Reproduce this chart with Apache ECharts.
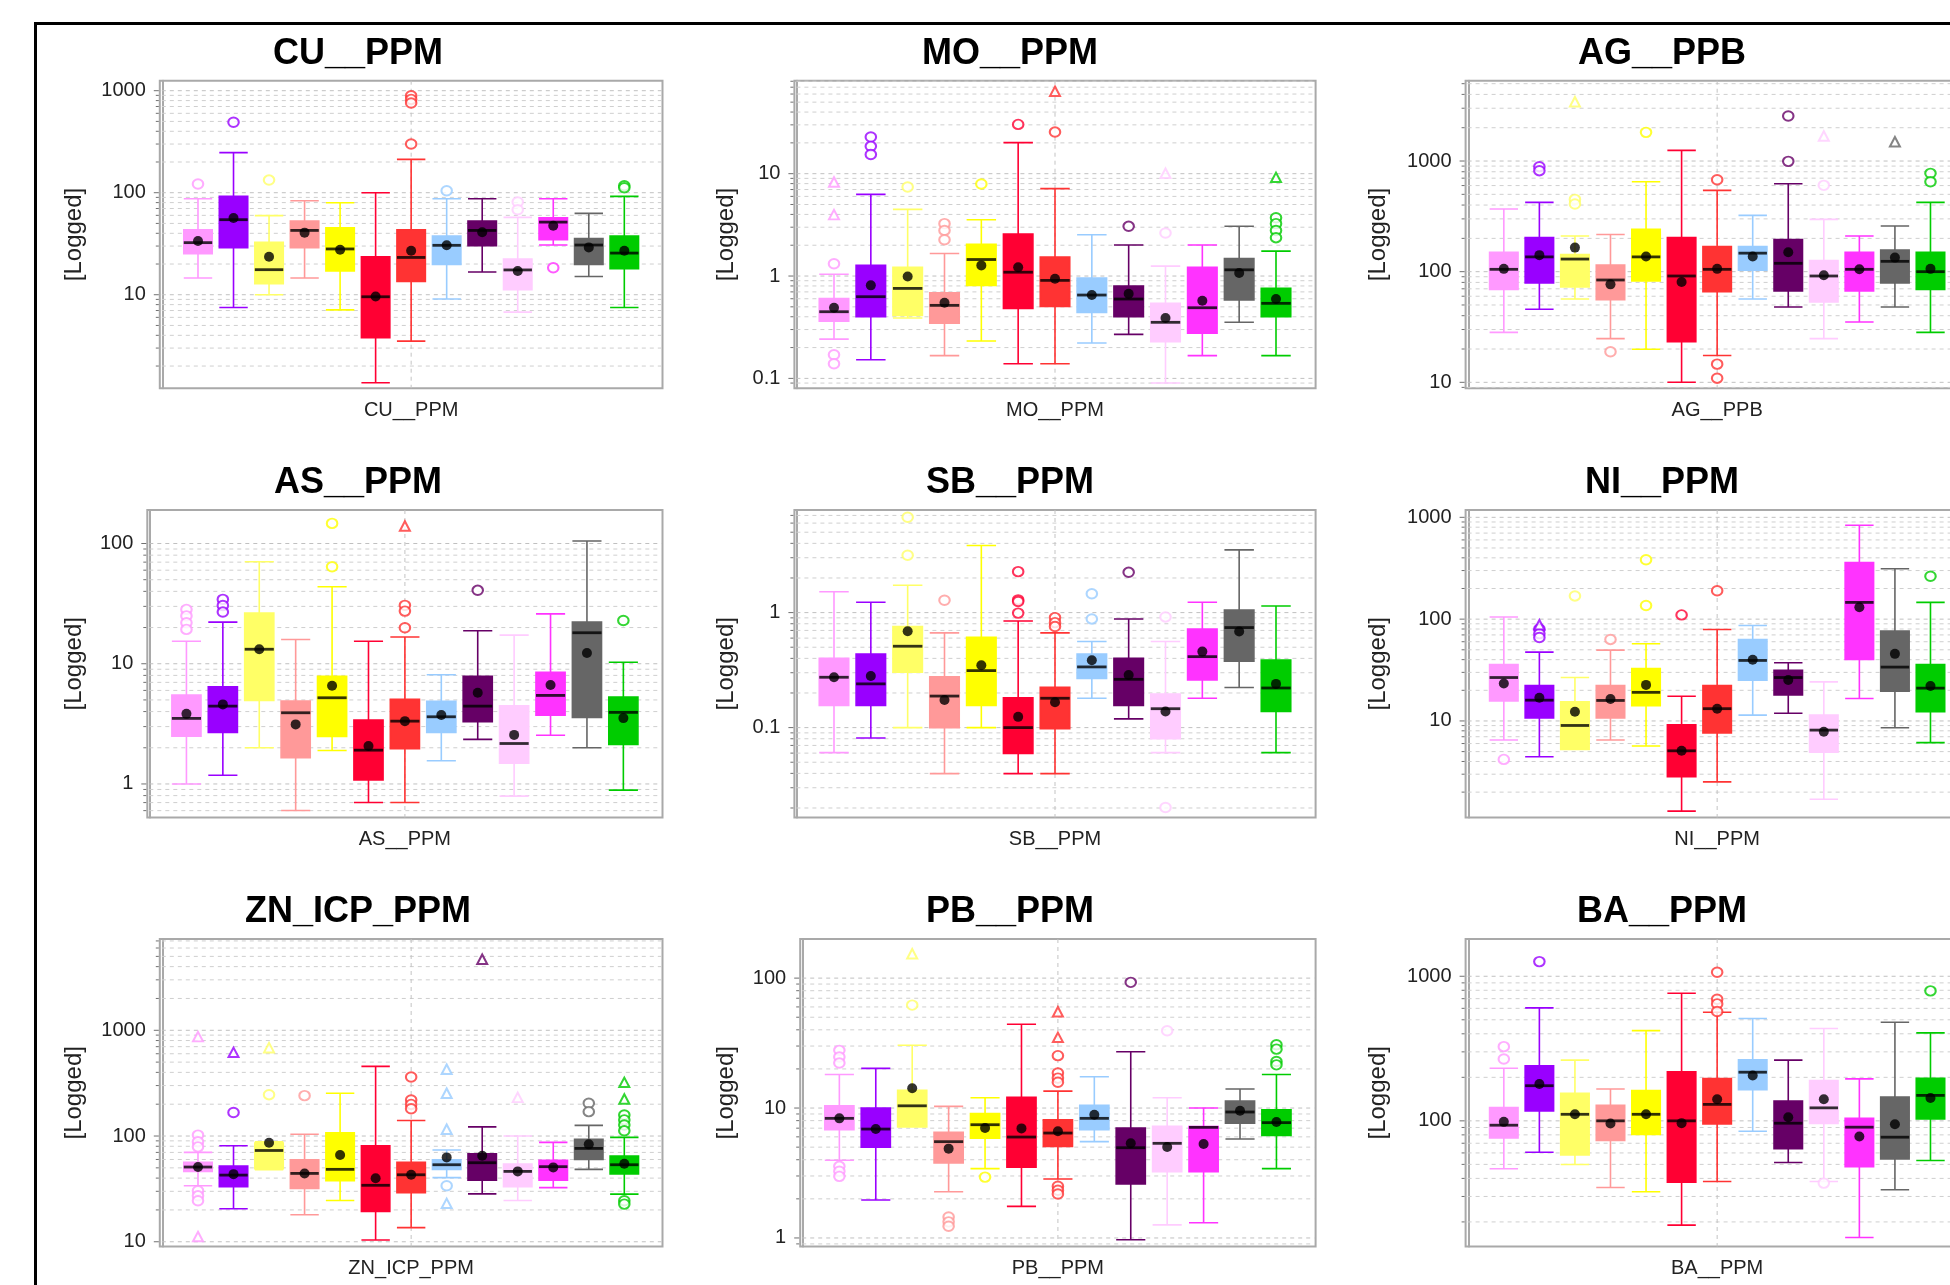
<!DOCTYPE html>
<html>
<head>
<meta charset="utf-8">
<script src="https://cdn.jsdelivr.net/npm/echarts@6/dist/echarts.min.js"></script>
<style>
html,body{margin:0;padding:0;background:#ffffff;}
#chart{width:1950px;height:1285px;}
</style>
</head>
<body>
<div id="chart"></div>
<script>
// ---------------- DATA ----------------
const groups = ['Group 1','Group 2','Group 3','Group 4','Group 5','Group 6','Group 7','Group 8','Group 9','Group 10','Group 11','Group 12','Group 13'];
const groupColors = ['#FF99FF','#9900FF','#FFFF66','#FF9999','#FFFF00','#FF0033','#FF3333','#99CCFF','#660066','#FFCCFF','#FF33FF','#666666','#00CC00'];
const variables = ['CU__PPM','MO__PPM','AG__PPB','AS__PPM','SB__PPM','NI__PPM','ZN_ICP_PPM','PB__PPM','BA__PPM'];

// each box: [lower whisker, Q1, median, Q3, upper whisker]
const CU_box = [[14.6,25.2,32.4,43.4,87.3],[7.5,28.9,54.4,92.1,247],[10,12.8,17.6,32.6,59.6],[14.6,28.9,42.7,52.7,83.5],[7.1,17.1,28.1,45.4,79.8],[1.37,3.79,9.55,23.6,100],[3.51,13.5,23.2,43.4,212],[9.08,19.8,30.5,37.6,87.3],[16.7,30.2,42.7,52.7,87.3],[6.76,11.2,17.5,22.4,57.3],[30.7,34.6,51.5,56.9,87.3],[15.1,19.8,30.7,35.6,62.7],[7.5,18.0,25.6,37.6,92.1]];
const CU_mean = [33.6,56.5,23.6,40.6,27.6,9.6,27.0,30.5,41,17.1,47.4,29.1,27.0];
const CU_outliers = [[0,121.6],[1,490],[2,133],[6,893],[6,822],[6,757],[6,300],[7,104.6],[9,81],[9,68],[10,18.4],[12,117],[12,112]];
const CU_extremes = [];
const CU_range = [1.21, 1253];

const MO_box = [[0.242,0.363,0.448,0.601,1.04],[0.152,0.401,0.628,1.27,6.28],[0.389,0.413,0.757,1.22,4.48],[0.167,0.347,0.517,0.687,1.66],[0.232,0.811,1.45,2.04,3.55],[0.139,0.483,1.09,2.57,20.1],[0.139,0.505,0.907,1.53,7.14],[0.222,0.441,0.652,0.956,2.53],[0.269,0.401,0.596,0.799,2.01],[0.090,0.228,0.353,0.541,1.25],[0.167,0.277,0.490,1.22,2.01],[0.353,0.583,1.15,1.48,3.06],[0.167,0.401,0.541,0.758,1.75]];
const MO_mean = [0.490,0.811,0.99,0.549,1.27,1.22,0.94,0.652,0.672,0.389,0.574,1.07,0.596];
const MO_outliers = [[0,1.32],[0,0.170],[0,0.139],[1,22.8],[1,18.5],[1,15.4],[2,7.41],[3,3.25],[3,2.79],[3,2.26],[4,7.93],[5,30.3],[6,25.5],[8,3.06],[9,2.63],[12,3.71],[12,3.25],[12,2.79],[12,2.37]];
const MO_extremes = [[0,8.29],[0,3.98],[6,63.8],[9,10.1],[12,9.21]];
const MO_range = [0.08, 81];

const AG_box = [[28.3,69.2,105,150,368],[45.7,79,136,203,423],[56.6,72.7,130,143,210],[24.8,55.8,84.1,115,217],[19.9,82.3,136,241,650],[10,23.3,91.4,203,1248],[17.5,65.9,105,169,543],[56.6,103,147,169,323],[48.0,66.9,119,195,624],[24.8,53.2,91.4,126,297],[35.1,66.9,105,150,210],[48,79,124,157,259],[28.3,69.2,100,150,423]];
const AG_mean = [106,141,165,76.8,137,80.6,106,137,149.6,92.7,105,134,106];
const AG_outliers = [[1,889],[1,818],[2,450],[2,409],[3,18.9],[4,1816],[6,678],[6,14.6],[6,10.9],[8,2550],[8,993],[9,603],[12,774],[12,650]];
const AG_extremes = [[2,3437],[9,1682],[11,1495]];
const AG_range = [8.83, 5320];

const AS_box = [[1.0,2.50,3.51,5.49,15.4],[1.18,2.68,4.44,6.43,22.2],[2.0,4.95,13.2,26.4,70.6],[0.601,1.65,3.91,4.89,15.9],[1.90,2.48,5.21,7.85,43.7],[0.702,1.08,1.91,3.40,15.4],[0.702,1.96,3.33,5.05,16.7],[1.56,2.68,3.62,4.86,8.10],[2.35,3.29,4.44,7.85,18.8],[0.792,1.49,2.17,4.47,17.3],[2.54,3.74,5.45,8.47,26.0],[2.0,3.58,18.1,22.2,104.8],[0.888,2.13,3.94,5.28,10.3]];
const AS_mean = [3.83,4.59,13.2,3.13,6.56,2.07,3.33,3.74,5.74,2.56,6.65,12.3,3.53];
const AS_outliers = [[0,28.3],[0,25],[0,21.9],[0,19.3],[1,34.3],[1,30.5],[1,26.9],[4,147],[4,64.1],[6,30.6],[6,27.4],[6,19.9],[8,40.8],[12,22.9]];
const AS_extremes = [[6,140]];
const AS_range = [0.525, 190];

const SB_box = [[0.0606,0.156,0.274,0.401,1.52],[0.0813,0.156,0.240,0.437,1.23],[0.1,0.303,0.510,0.755,1.73],[0.0398,0.1,0.188,0.276,0.666],[0.1,0.156,0.313,0.610,3.83],[0.0398,0.0597,0.1,0.182,0.846],[0.0398,0.098,0.180,0.224,0.666],[0.180,0.268,0.337,0.437,0.56],[0.119,0.156,0.263,0.401,0.881],[0.0606,0.0802,0.146,0.196,0.56],[0.180,0.260,0.414,0.721,1.23],[0.223,0.377,0.741,1.05,3.51],[0.0606,0.138,0.221,0.387,1.14]];
const SB_mean = [0.274,0.281,0.688,0.174,0.348,0.124,0.166,0.385,0.287,0.138,0.458,0.684,0.240];
const SB_outliers = [[2,6.75],[2,3.15],[3,1.28],[5,2.27],[5,1.29],[5,1.25],[5,0.99],[6,0.905],[6,0.818],[6,0.756],[7,1.46],[7,0.881],[8,2.24],[9,0.917],[9,0.0202]];
const SB_extremes = [];
const SB_range = [0.0165, 7.8];

const NI_box = [[6.49,15.7,26.7,35.9,105],[4.45,10.7,16.0,22.3,47.4],[5.25,5.25,9.03,15.4,26.7],[6.49,10.7,15.9,22.3,49.6],[5.68,14.1,19.1,32.8,57.3],[1.30,2.83,5.09,9.17,17.5],[2.52,7.63,13.2,22.3,79.1],[11.4,25.2,39.3,63.2,86.7],[11.9,18.0,26.7,31.4,37.3],[1.70,4.94,8.13,11.4,24.2],[16.6,40.2,146,360,837],[8.57,19.6,33.8,76.2,312],[6.12,12.3,21.0,35.9,146]];
const NI_mean = [23.3,16.9,12.3,16.4,22.6,5.09,13.2,39.9,25.2,7.82,131,45.6,22.0];
const NI_outliers = [[0,4.19],[1,80],[1,72],[1,66],[2,169],[3,63.2],[4,383],[4,136],[5,110],[6,190],[12,264]];
const NI_extremes = [[1,88]];
const NI_range = [1.124, 1180];

const ZN_box = [[33.9,46.3,50.9,56.4,70],[20.5,33.1,42.7,52.0,81],[48,49,73,86,88],[18.0,32.0,44.3,59.7,104],[24.6,37.8,48.4,107,254],[10.4,19.4,34.2,81,456],[13.6,29.1,43.0,56.4,140],[40.4,48.4,53.5,59.7,73.7],[28.4,38.3,55.9,68.0,122],[24.6,33.1,46.3,54.3,100],[32.5,38.3,51.3,58.8,87.1],[48.4,60.1,76.4,93,126],[28.2,43.7,53.5,64.7,97.1]];
const ZN_mean = [50.9,43.6,86.5,44.3,66.1,39.8,43,62.8,65.1,46.3,50.5,83.4,54.7];
const ZN_outliers = [[0,102],[0,88.4],[0,79],[0,30.4],[0,27.2],[0,24.4],[1,167],[2,246],[3,241],[6,362],[6,219],[6,199],[6,181],[7,33.9],[11,204],[11,170],[12,158],[12,142],[12,127],[12,112],[12,24.4],[12,22.7]];
const ZN_extremes = [[0,871],[0,11.2],[1,619],[2,685],[7,428],[7,254],[7,116],[7,23.1],[8,4698],[9,232],[12,322],[12,224]];
const ZN_range = [9.0, 7300];

const PB_box = [[3.96,6.81,8.33,10.4,18.1],[1.96,4.99,6.89,10,20.2],[7.15,7.15,10.4,13.7,30.4],[2.27,3.78,5.51,6.50,10.3],[3.42,5.85,7.44,9.05,12.0],[1.75,3.50,5.98,12.1,44.2],[2.84,5.07,6.42,8.13,13.5],[5.51,6.81,8.33,10.5,17.4],[0.97,2.60,4.95,7.02,27.1],[1.26,3.24,5.35,7.23,12.0],[1.31,3.24,7.1,7.2,10],[5.77,7.66,9.32,11.3,14.0],[3.42,6.16,7.72,9.71,18.1]];
const PB_mean = [8.33,6.89,14.2,4.87,7.02,6.97,6.62,8.89,5.35,5.01,5.29,9.54,7.8];
const PB_outliers = [[0,27.8],[0,24.7],[0,22.2],[0,3.56],[0,3.26],[0,2.98],[2,62],[3,1.45],[3,1.33],[3,1.23],[4,2.94],[6,25.3],[6,18.6],[6,17.0],[6,15.8],[6,2.50],[6,2.33],[6,2.18],[8,92.8],[9,39.3],[12,30.7],[12,28.4],[12,22.8],[12,21.5]];
const PB_extremes = [[2,154],[6,55.1],[6,35.0]];
const PB_range = [0.858, 200];

const BA_box = [[46.6,76.3,93.3,123.6,231],[60.7,117,175,240,604],[49.9,58.2,111,155,263],[34.6,73.1,100,128,166],[32.3,80.4,111,162,421],[19.0,37.7,100,218,763],[38.1,95.3,130,196,564],[84.8,164,217,264,510],[51.5,64.3,96.3,137,263],[38.1,95.8,123,190,435],[15.6,48.1,90.4,104,195],[33.4,54.6,77.1,146,481],[53.2,103,150,197,406]];
const BA_mean = [98.4,180,111,95.8,111,96.4,141,206,106,141,77.9,94.8,144];
const BA_outliers = [[0,326],[0,268],[1,1263],[6,1066],[6,693],[6,644],[6,570],[9,37.1],[12,792]];
const BA_extremes = [];
const BA_range = [13.5, 1810];

const panelBoxes = [CU_box, MO_box, AG_box, AS_box, SB_box, NI_box, ZN_box, PB_box, BA_box];
const panelMeans = [CU_mean, MO_mean, AG_mean, AS_mean, SB_mean, NI_mean, ZN_mean, PB_mean, BA_mean];
const panelOutliers = [CU_outliers, MO_outliers, AG_outliers, AS_outliers, SB_outliers, NI_outliers, ZN_outliers, PB_outliers, BA_outliers];
const panelExtremes = [CU_extremes, MO_extremes, AG_extremes, AS_extremes, SB_extremes, NI_extremes, ZN_extremes, PB_extremes, BA_extremes];
const panelRanges = [CU_range, MO_range, AG_range, AS_range, SB_range, NI_range, ZN_range, PB_range, BA_range];

// ---------------- LAYOUT (styles) ----------------
const FONT = '"Liberation Sans", Arial, Helvetica, sans-serif';
const colX = [32, 684, 1336];
const plotLeft = [159.8, 794.4, 1465.6, 147.3, 794.4, 1465.6, 159.8, 800.2, 1465.6];
const plotRight = [662.5, 1315.6, 1968.7];
const plotTop = [80.7, 510, 939];
const plotH = 307.6;
const X_MIN = -0.075, X_MAX = 14.075;

const chart = echarts.init(document.getElementById('chart'), null, {renderer: 'canvas'});

const grid = [], xAxis = [], yAxis = [], series = [], title = [];

function isPow10(v) {
  const l = Math.log10(v);
  return Math.abs(l - Math.round(l)) < 1e-6;
}

variables.forEach((name, i) => {
  const col = i % 3, row = Math.floor(i / 3);
  const L = plotLeft[i], R = plotRight[col], T = plotTop[row], W = R - L;
  const range = panelRanges[i];
  const bw = 0.8 * W / (X_MAX - X_MIN);

  title.push({
    text: name, left: colX[col] + 326, top: T - 45, textAlign: 'center',
    padding: 0,
    textStyle: {fontSize: 36, fontWeight: 'bold', color: '#000', fontFamily: FONT}
  });

  grid.push({left: L, top: T, width: W, height: plotH, show: true,
    borderColor: '#a9a9a9', borderWidth: 2, backgroundColor: '#fff',
    containLabel: false, outerBoundsMode: 'none'});

  xAxis.push({
    type: 'value', gridIndex: i, min: X_MIN, max: X_MAX,
    axisLine: {show: false}, axisTick: {show: false}, axisLabel: {show: false}, splitLine: {show: false},
    name: name, nameLocation: 'middle', nameGap: 12,
    nameTextStyle: {fontSize: 20, color: '#222', fontFamily: FONT}
  });

  yAxis.push({
    type: 'log', logBase: 10, gridIndex: i, min: range[0], max: range[1],
    axisLine: {show: true, lineStyle: {color: '#a9a9a9', width: 2}},
    axisTick: {show: false},
    splitLine: {show: false},
    minorTick: {show: false}, minorSplitLine: {show: false},
    axisLabel: {
      show: true, margin: 14, fontSize: 20, color: '#222', fontFamily: FONT,
      showMinLabel: true, showMaxLabel: true,
      formatter: v => isPow10(v) ? String(+(+v).toPrecision(6)) : ''
    },
    name: '[Logged]', nameLocation: 'middle', nameRotate: 90,
    nameGap: L - (colX[col] + 42 + 12),
    nameTextStyle: {fontSize: 24, color: '#222', fontFamily: FONT}
  });

  // gridline / tick positions (styling only)
  const gridVals = [];
  for (let k = Math.floor(Math.log10(range[0])); k <= Math.ceil(Math.log10(range[1])); k++) {
    for (let m = 1; m <= 9; m++) {
      const v = m * Math.pow(10, k);
      if (v > range[0] * 1.0005 && v < range[1] * 0.9995) gridVals.push([7, v, m === 1 ? 1 : 0]);
    }
  }
  gridVals.push([7, range[0], 2]);

  series.push({
    type: 'custom', xAxisIndex: i, yAxisIndex: i, silent: true, z: 1, clip: false,
    encode: {x: 0, y: 1},
    data: gridVals,
    renderItem: function (params, api) {
      const cs = params.coordSys;
      const kind = api.value(2);
      if (kind === 2) {
        const x = api.coord([api.value(0), api.value(1)])[0];
        return {type: 'line', shape: {x1: x, y1: cs.y, x2: x, y2: cs.y + cs.height},
          style: {stroke: '#c4c4c4', lineWidth: 1, lineDash: [4, 4]}};
      }
      const y = api.coord([api.value(0), api.value(1)])[1];
      return {type: 'group', children: [
        {type: 'line', shape: {x1: cs.x + 2, y1: y, x2: cs.x + cs.width - 1, y2: y},
          style: {stroke: kind === 1 ? '#c0c0c0' : '#cfcfcf', lineWidth: 1, lineDash: [4, 4]}},
        {type: 'line', shape: {x1: cs.x - (kind === 1 ? 6 : 4), y1: y, x2: cs.x - 1, y2: y},
          style: {stroke: '#707070', lineWidth: 1}}
      ]};
    }
  });

  series.push({
    type: 'boxplot', name: name, xAxisIndex: i, yAxisIndex: i, silent: true, z: 2,
    boxWidth: [bw, bw],
    data: panelBoxes[i].map((b, g) => ({
      name: groups[g],
      value: [g + 1, b[0], b[1], b[2], b[3], b[4]],
      itemStyle: {color: groupColors[g], borderColor: groupColors[g], borderWidth: 1.6}
    }))
  });

  series.push({
    type: 'scatter', name: name + ' median', xAxisIndex: i, yAxisIndex: i, silent: true, z: 3,
    symbol: 'rect', symbolSize: [bw, 2.8],
    itemStyle: {color: '#000'},
    data: panelBoxes[i].map((b, g) => [g + 1, b[2]])
  });

  series.push({
    type: 'scatter', name: name + ' outliers', xAxisIndex: i, yAxisIndex: i, silent: true, z: 3,
    symbol: 'emptyCircle', symbolSize: [10.5, 9.5],
    data: panelOutliers[i].map(o => ({value: [o[0] + 1, o[1]], itemStyle: {color: groupColors[o[0]]}}))
  });

  series.push({
    type: 'scatter', name: name + ' extremes', xAxisIndex: i, yAxisIndex: i, silent: true, z: 3,
    symbol: 'emptyTriangle', symbolSize: [10, 9.5],
    data: panelExtremes[i].map(o => ({value: [o[0] + 1, o[1]], itemStyle: {color: groupColors[o[0]]}}))
  });

  series.push({
    type: 'scatter', name: name + ' mean', xAxisIndex: i, yAxisIndex: i, silent: true, z: 4,
    symbol: 'circle', symbolSize: 10,
    itemStyle: {color: '#000'},
    data: panelMeans[i].map((m, g) => [g + 1, m])
  });
});

chart.setOption({
  animation: false,
  backgroundColor: '#ffffff',
  textStyle: {fontFamily: FONT},
  title: title,
  grid: grid,
  xAxis: xAxis,
  yAxis: yAxis,
  series: series,
  graphic: [{
    type: 'rect', silent: true, z: 0,
    shape: {x: 35.5, y: 23.5, width: 3000, height: 3000},
    style: {fill: 'none', stroke: '#000', lineWidth: 3}
  }]
});
</script>
</body>
</html>
